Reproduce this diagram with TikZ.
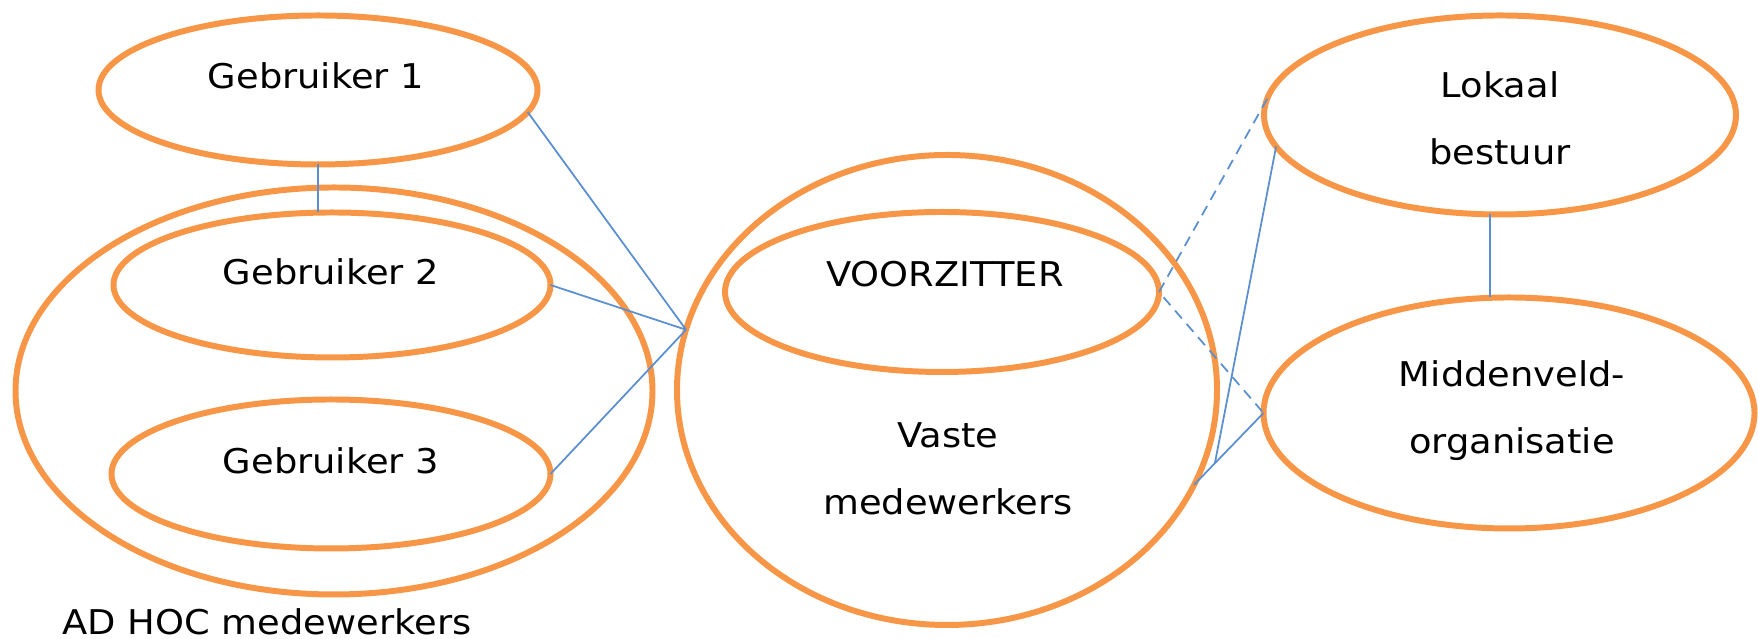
\documentclass[tikz,border=0pt]{standalone}
\usepackage{fontspec}
\setmainfont{DejaVu Sans}[FakeStretch=1.08]
\usepackage{tikz}
\usetikzlibrary{shapes.geometric, calc}
\definecolor{oranje}{RGB}{247,150,70}
\definecolor{blauw}{RGB}{91,143,207}
\tikzstyle{bulle} = [draw=oranje, ellipse, line width=1.7pt, inner sep=0pt, outer sep=0pt]
\tikzstyle{lien} = [draw=blauw, line width=0.5pt]
\tikzstyle{tekst} = [anchor=base, align=center, inner sep=0pt, font=\fontsize{9.7}{19.3}\selectfont]

\begin{document}
\begin{tikzpicture}[thick]
	\useasboundingbox (0,0) rectangle (17.58,6.39);

%% Les ellipses (gauche)
	\node[bulle, minimum width=4.39cm, minimum height=1.49cm] (g1) at (3.18,5.49) {};
	\node[bulle, minimum width=6.37cm, minimum height=4.07cm] (adhoc) at (3.34,2.48) {};
	\node[bulle, minimum width=4.37cm, minimum height=1.45cm] (g2) at (3.32,3.54) {};
	\node[bulle, minimum width=4.39cm, minimum height=1.49cm] (g3) at (3.31,1.65) {};

%% Vaste medewerkers
	\node[bulle, minimum width=5.40cm, minimum height=4.70cm] (vaste) at (9.47,2.49) {};
	\node[bulle, minimum width=4.34cm, minimum height=1.60cm] (voorz) at (9.42,3.47) {};

%% Lokaal bestuur / middenveld
	\node[bulle, minimum width=4.72cm, minimum height=1.99cm] (lokaal) at (15.00,5.24) {};
	\node[bulle, minimum width=4.91cm, minimum height=2.31cm] (midden) at (15.09,2.26) {};

%% Les textes
	\node[tekst] (t_g1) at (3.16,5.50) {Gebruiker 1};
	\node[tekst] (t_g2) at (3.31,3.54) {Gebruiker 2};
	\node[tekst] (t_g3) at (3.31,1.65) {Gebruiker 3};
	\node[tekst] (t_adhoc) at (2.67,0.04) {AD HOC medewerkers};
	\node[tekst] (t_voorz) at (9.45,3.52) {VOORZITTER};
	\node[tekst] (t_vaste) at (9.48,1.24) {Vaste\\medewerkers};
	\node[tekst] (t_lokaal) at (15.00,4.74) {Lokaal\\bestuur};
	\node[tekst] (t_midden) at (15.12,1.85) {Middenveld-\\organisatie};

%% Liens gauche
	\coordinate (p) at (vaste.167);
	\draw[lien] (g1.-6) -- (p);
	\draw[lien] (g2.east) -- (p);
	\draw[lien] (g3.east) -- (p);
	\draw[lien] (g1.south) -- (g1.south |- g2.north);

%% Liens droite
	\draw[lien, dash pattern=on 3pt off 2pt] (lokaal.176) -- (voorz.east) -- (midden.west);
	\coordinate (q) at (vaste.-21);
	\draw[lien] (q) -- (midden.west);
	\draw[lien] (lokaal.188) -- ($(q)!0.3!(midden.west)$);
	\draw[lien] ([xshift=-1mm]lokaal.south) -- ([xshift=-1mm]lokaal.south |- midden.north);

\end{tikzpicture}
\end{document}
